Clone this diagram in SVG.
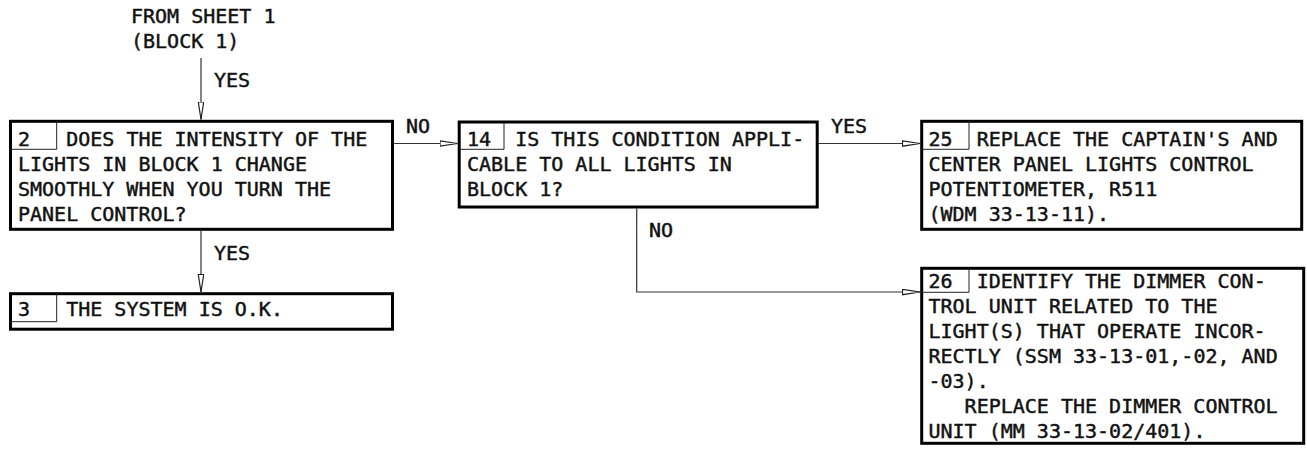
<svg xmlns="http://www.w3.org/2000/svg" width="1307" height="453" viewBox="0 0 1307 453">
<style>
text { font-family: "DejaVu Sans Mono", "Liberation Mono", monospace; font-size: 20px; fill: #111; stroke: #111; stroke-width: 0.45; }
.box { fill: #fff; stroke: #000; stroke-width: 3; }
.cell { fill: none; stroke: #222; stroke-width: 1; }
.conn { fill: none; stroke: #333; stroke-width: 1.2; }
</style>
<defs>
<marker id="arr" markerUnits="userSpaceOnUse" markerWidth="20" markerHeight="8" refX="18" refY="3.2" orient="auto">
<path d="M0.5,0.5 L18,3.2 L0.5,5.9 Z" fill="#fff" stroke="#222" stroke-width="1.2"/>
</marker>
</defs>
<g id="labels">
<text x="131" y="23">FROM SHEET 1</text>
<text x="131" y="48">(BLOCK 1)</text>
<text x="214" y="87">YES</text>
<text x="214" y="260">YES</text>
<text x="406" y="133">NO</text>
<text x="831" y="133">YES</text>
<text x="649" y="237">NO</text>
</g>
<g id="connectors">
<path class="conn" d="M201,58 V119.5" marker-end="url(#arr)"/>
<path class="conn" d="M201,231 V292" marker-end="url(#arr)"/>
<path class="conn" d="M394,143.5 H457.5" marker-end="url(#arr)"/>
<path class="conn" d="M818.5,143.5 H920" marker-end="url(#arr)"/>
<path class="conn" d="M636.7,208.5 V292 H920" marker-end="url(#arr)"/>
</g>
<g id="node2">
<rect class="box" x="10.5" y="121.3" width="382" height="108"/>
<path class="cell" d="M56.7,121.3 V149.3 H10.5"/>
<text x="18" y="146">2</text>
<text x="66.2" y="146">DOES THE INTENSITY OF THE</text>
<text x="18" y="171">LIGHTS IN BLOCK 1 CHANGE</text>
<text x="18" y="196">SMOOTHLY WHEN YOU TURN THE</text>
<text x="18" y="221">PANEL CONTROL?</text>
</g>
<g id="node3">
<rect class="box" x="10.5" y="293.7" width="382" height="35.5"/>
<path class="cell" d="M56.7,293.7 V321.7 H10.5"/>
<text x="18" y="316">3</text>
<text x="66.2" y="316">THE SYSTEM IS O.K.</text>
</g>
<g id="node14">
<rect class="box" x="459.2" y="122" width="358" height="85"/>
<path class="cell" d="M504,122 V149.3 H459.2"/>
<text x="467" y="146">14</text>
<text x="515.2" y="146">IS THIS CONDITION APPLI-</text>
<text x="467" y="171">CABLE TO ALL LIGHTS IN</text>
<text x="467" y="196">BLOCK 1?</text>
</g>
<g id="node25">
<rect class="box" x="921.7" y="121.3" width="380" height="108"/>
<path class="cell" d="M969,121.3 V149.3 H921.7"/>
<text x="928.5" y="146">25</text>
<text x="976.7" y="146">REPLACE THE CAPTAIN'S AND</text>
<text x="928.5" y="171">CENTER PANEL LIGHTS CONTROL</text>
<text x="928.5" y="196">POTENTIOMETER, R511</text>
<text x="928.5" y="221">(WDM 33-13-11).</text>
</g>
<g id="node26">
<rect class="box" x="921.7" y="268.3" width="382" height="175"/>
<path class="cell" d="M969,268.3 V292.3 H921.7"/>
<text x="928.5" y="288.3">26</text>
<text x="976.7" y="288.3">IDENTIFY THE DIMMER CON-</text>
<text x="928.5" y="313.3">TROL UNIT RELATED TO THE</text>
<text x="928.5" y="338.3">LIGHT(S) THAT OPERATE INCOR-</text>
<text x="928.5" y="363.3">RECTLY (SSM 33-13-01,-02, AND</text>
<text x="928.5" y="388.3">-03).</text>
<text x="964.6" y="413.3">REPLACE THE DIMMER CONTROL</text>
<text x="928.5" y="438.3">UNIT (MM 33-13-02/401).</text>
</g>
</svg>
